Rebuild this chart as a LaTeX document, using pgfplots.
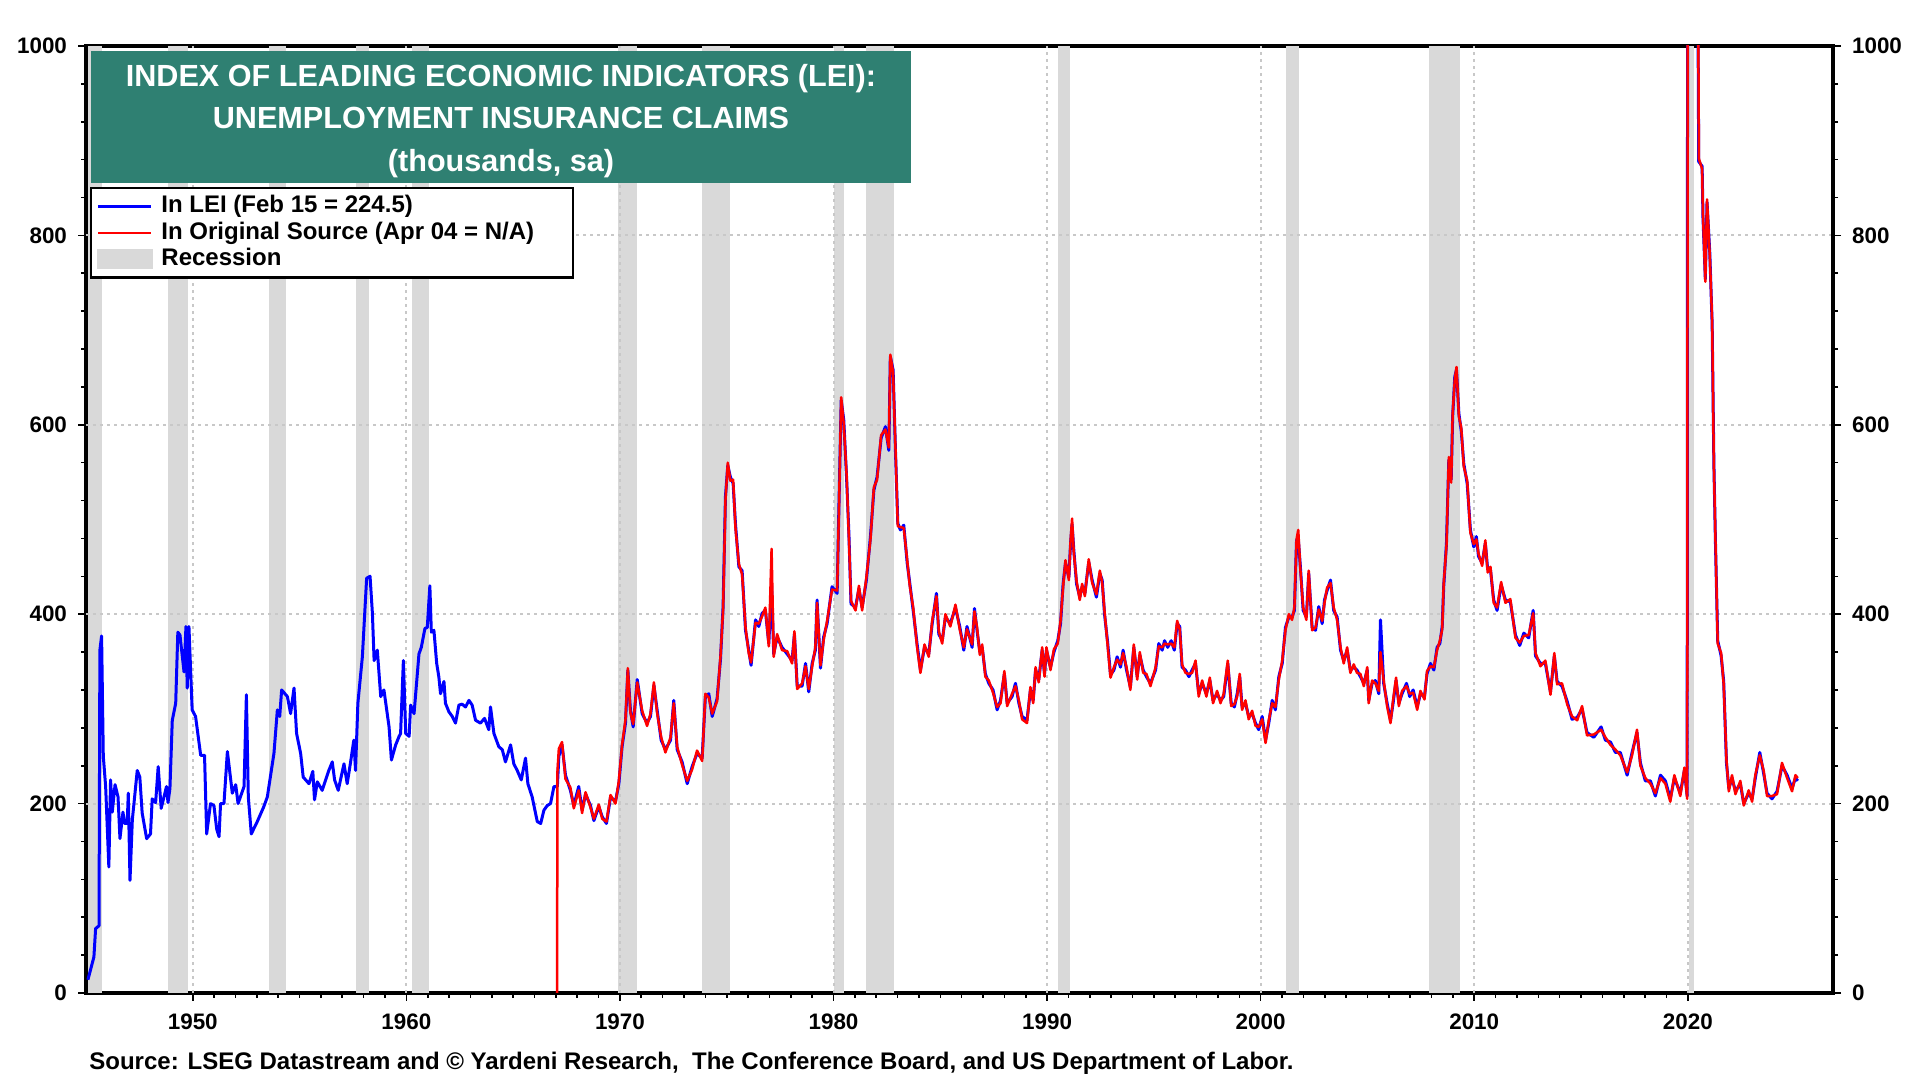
\documentclass[border=0pt]{standalone}
\usepackage{pgfplots}
\pgfplotsset{compat=1.18}
\usepackage{pgfplotstable}
\usepackage{fontspec}
\setmainfont{Liberation Sans}
\definecolor{lblue}{RGB}{0,0,255}
\definecolor{lred}{RGB}{255,0,0}
\definecolor{recgray}{RGB}{217,217,217}
\definecolor{titlecol}{RGB}{47,128,114}
\definecolor{gridgray}{RGB}{200,200,200}

\pgfplotstableread{
yr val
1945.09 14
1945.37 38
1945.45 68
1945.61 71
1945.65 362
1945.73 377
1945.81 250
1945.92 218
1946.07 133
1946.15 225
1946.23 191
1946.36 220
1946.50 207
1946.59 163
1946.73 191
1946.81 179
1946.93 179
1946.98 211
1947.06 119
1947.17 183
1947.40 235
1947.52 228
1947.63 190
1947.84 163
1948.02 168
1948.10 205
1948.26 201
1948.38 239
1948.52 195
1948.77 218
1948.84 201
1948.93 216
1949.04 288
1949.20 306
1949.30 381
1949.40 378
1949.59 339
1949.68 387
1949.74 322
1949.82 387
1949.97 299
1950.13 292
1950.37 251
1950.55 251
1950.65 168
1950.83 200
1950.99 198
1951.12 173
1951.23 165
1951.30 200
1951.46 200
1951.62 255
1951.85 211
1952.01 220
1952.12 200
1952.40 218
1952.51 315
1952.60 207
1952.74 168
1953.02 181
1953.33 197
1953.49 207
1953.80 253
1953.96 299
1954.07 292
1954.16 320
1954.43 313
1954.58 295
1954.74 322
1954.86 274
1955.05 253
1955.17 228
1955.44 221
1955.62 234
1955.70 204
1955.83 223
1956.06 214
1956.22 225
1956.37 235
1956.53 244
1956.64 225
1956.81 214
1957.08 242
1957.23 221
1957.39 244
1957.54 267
1957.62 235
1957.73 306
1957.94 355
1958.14 438
1958.30 440
1958.41 401
1958.49 351
1958.64 362
1958.80 313
1958.95 320
1959.19 281
1959.30 246
1959.50 262
1959.66 271
1959.73 274
1959.86 351
1959.97 274
1960.13 271
1960.20 304
1960.36 295
1960.59 358
1960.70 365
1960.87 385
1960.98 386
1961.10 430
1961.17 381
1961.29 383
1961.42 348
1961.52 334
1961.60 316
1961.76 329
1961.83 306
1961.99 297
1962.15 292
1962.30 285
1962.46 304
1962.61 305
1962.77 302
1962.93 309
1963.08 304
1963.24 288
1963.47 285
1963.66 290
1963.86 278
1963.94 302
1964.10 274
1964.33 260
1964.49 257
1964.64 244
1964.88 262
1965.03 242
1965.19 235
1965.38 225
1965.58 248
1965.69 221
1965.89 207
1966.13 181
1966.29 179
1966.44 193
1966.60 198
1966.75 200
1966.91 218
1967.07 218
1967.14 250
1967.29 262
1967.45 230
1967.68 214
1967.84 198
1968.07 218
1968.23 193
1968.39 210
1968.62 198
1968.78 182
1969.01 197
1969.17 186
1969.37 179
1969.56 207
1969.79 202
1969.95 221
1970.10 260
1970.26 285
1970.37 341
1970.49 299
1970.62 281
1970.81 331
1971.04 295
1971.27 285
1971.43 292
1971.59 325
1971.74 299
1971.93 267
1972.13 257
1972.37 267
1972.52 309
1972.68 257
1972.91 244
1973.15 221
1973.38 239
1973.61 253
1973.85 248
1974.00 313
1974.16 316
1974.32 292
1974.55 311
1974.71 353
1974.83 408
1974.94 524
1975.05 557
1975.17 545
1975.30 538
1975.41 495
1975.57 450
1975.72 446
1975.88 383
1976.03 362
1976.14 346
1976.35 394
1976.50 387
1976.66 401
1976.81 404
1976.97 369
1977.10 430
1977.20 358
1977.36 376
1977.59 365
1977.83 358
1978.06 351
1978.17 379
1978.30 324
1978.53 324
1978.69 348
1978.84 318
1979.00 348
1979.15 362
1979.23 415
1979.39 343
1979.54 376
1979.70 390
1979.93 429
1980.17 422
1980.25 510
1980.36 626
1980.48 605
1980.61 545
1980.72 485
1980.82 411
1981.03 407
1981.19 427
1981.34 407
1981.54 436
1981.73 482
1981.89 531
1982.04 545
1982.23 586
1982.43 598
1982.59 573
1982.66 672
1982.79 658
1982.90 573
1983.01 496
1983.13 489
1983.29 494
1983.45 454
1983.57 433
1983.73 404
1983.91 369
1984.07 341
1984.26 365
1984.46 358
1984.62 390
1984.82 422
1984.93 379
1985.09 372
1985.24 397
1985.47 390
1985.71 407
1985.91 387
1986.10 362
1986.25 387
1986.49 365
1986.60 406
1986.72 383
1986.85 360
1986.96 365
1987.11 337
1987.27 327
1987.47 320
1987.66 299
1987.82 309
1988.00 337
1988.13 306
1988.36 313
1988.52 327
1988.68 306
1988.83 292
1989.06 288
1989.22 320
1989.35 309
1989.46 341
1989.61 331
1989.77 362
1989.88 337
1989.97 362
1990.16 344
1990.32 360
1990.50 372
1990.63 390
1990.75 432
1990.86 454
1991.02 439
1991.10 475
1991.17 495
1991.25 468
1991.38 432
1991.53 418
1991.64 429
1991.77 422
1991.95 455
1992.11 436
1992.31 418
1992.47 443
1992.58 436
1992.69 400
1992.84 369
1992.97 336
1993.13 341
1993.28 355
1993.44 344
1993.56 362
1993.72 341
1993.90 323
1994.06 365
1994.22 334
1994.34 357
1994.50 341
1994.65 334
1994.84 327
1995.08 341
1995.23 369
1995.39 362
1995.50 372
1995.65 365
1995.81 372
1995.96 362
1996.09 390
1996.21 387
1996.32 344
1996.48 341
1996.64 334
1996.79 341
1996.95 348
1997.10 316
1997.26 327
1997.46 316
1997.62 330
1997.77 309
1997.96 316
1998.12 309
1998.27 313
1998.46 348
1998.62 306
1998.77 302
1998.90 316
1999.02 334
1999.13 302
1999.29 306
1999.44 292
1999.60 295
1999.76 285
1999.91 278
2000.07 292
2000.23 267
2000.38 285
2000.54 309
2000.69 299
2000.85 334
2001.01 348
2001.16 386
2001.32 397
2001.47 397
2001.58 404
2001.68 478
2001.76 480
2001.86 450
2001.99 404
2002.14 397
2002.25 443
2002.41 386
2002.57 383
2002.72 408
2002.88 390
2002.99 415
2003.11 425
2003.27 436
2003.42 404
2003.58 397
2003.74 362
2003.89 351
2004.05 362
2004.20 341
2004.36 344
2004.51 341
2004.67 334
2004.83 327
2004.99 341
2005.06 309
2005.22 327
2005.37 330
2005.53 316
2005.61 394
2005.76 327
2005.92 306
2006.08 288
2006.20 306
2006.34 330
2006.47 306
2006.62 316
2006.83 327
2006.98 313
2007.14 320
2007.33 302
2007.48 316
2007.67 313
2007.79 337
2007.95 348
2008.11 341
2008.26 365
2008.39 369
2008.50 387
2008.57 429
2008.70 475
2008.81 563
2008.92 542
2008.99 609
2009.09 651
2009.17 658
2009.28 612
2009.39 594
2009.51 559
2009.67 538
2009.82 489
2009.98 471
2010.10 482
2010.20 461
2010.37 454
2010.52 475
2010.63 447
2010.76 447
2010.91 415
2011.07 404
2011.26 431
2011.46 415
2011.69 413
2011.93 378
2012.13 367
2012.32 380
2012.55 375
2012.76 404
2012.87 356
2013.10 348
2013.33 348
2013.57 318
2013.75 356
2013.88 329
2014.11 324
2014.35 308
2014.58 289
2014.82 291
2015.05 300
2015.28 275
2015.60 270
2015.94 281
2016.14 267
2016.38 265
2016.61 254
2016.84 254
2017.16 230
2017.39 254
2017.62 275
2017.78 243
2018.01 224
2018.25 224
2018.48 208
2018.72 230
2018.95 224
2019.18 205
2019.37 227
2019.65 211
2019.84 235
2019.97 208
2020.02 2500
2020.25 6000
2020.44 1200
2020.51 878
2020.67 873
2020.71 819
2020.82 754
2020.90 835
2021.03 781
2021.14 706
2021.22 560
2021.29 480
2021.40 372
2021.56 356
2021.68 329
2021.81 243
2021.92 216
2022.07 227
2022.23 213
2022.46 221
2022.62 200
2022.85 211
2023.01 205
2023.16 227
2023.37 254
2023.55 232
2023.71 211
2023.94 205
2024.18 213
2024.41 240
2024.65 230
2024.88 216
2025.04 227
2025.15 224
}\leidata

\pgfplotstableread{
yr val
1967.06 0
1967.07 232
1967.14 258
1967.29 265
1967.45 226
1967.68 217
1967.84 195
1968.07 214
1968.23 190
1968.39 212
1968.62 196
1968.78 184
1969.01 199
1969.17 184
1969.37 181
1969.56 209
1969.79 200
1969.95 224
1970.10 262
1970.26 289
1970.37 343
1970.49 296
1970.62 284
1970.81 328
1971.04 298
1971.27 282
1971.43 295
1971.59 328
1971.74 296
1971.93 270
1972.13 254
1972.37 270
1972.52 306
1972.68 260
1972.91 241
1973.15 224
1973.38 236
1973.61 256
1973.85 245
1974.00 316
1974.16 312
1974.32 295
1974.55 308
1974.71 356
1974.83 405
1974.94 520
1975.05 560
1975.17 541
1975.30 542
1975.41 491
1975.57 453
1975.72 442
1975.88 386
1976.03 359
1976.14 349
1976.35 391
1976.50 390
1976.66 398
1976.81 407
1976.97 366
1977.10 469
1977.20 355
1977.36 379
1977.59 362
1977.83 361
1978.06 348
1978.17 382
1978.30 321
1978.53 327
1978.69 345
1978.84 321
1979.00 345
1979.15 365
1979.23 412
1979.39 346
1979.54 373
1979.70 393
1979.93 426
1980.17 425
1980.25 506
1980.36 629
1980.48 601
1980.61 548
1980.72 481
1980.82 414
1981.03 404
1981.19 430
1981.34 404
1981.54 439
1981.73 479
1981.89 534
1982.04 542
1982.23 589
1982.43 595
1982.59 576
1982.66 674
1982.79 655
1982.90 576
1983.01 493
1983.13 492
1983.29 491
1983.45 457
1983.57 430
1983.73 407
1983.91 366
1984.07 338
1984.26 368
1984.46 355
1984.62 393
1984.82 419
1984.93 382
1985.09 369
1985.24 400
1985.47 387
1985.71 410
1985.91 384
1986.10 365
1986.25 384
1986.49 368
1986.60 403
1986.72 386
1986.85 357
1986.96 368
1987.11 334
1987.27 330
1987.47 317
1987.66 302
1987.82 306
1988.00 340
1988.13 303
1988.36 316
1988.52 324
1988.68 309
1988.83 289
1989.06 285
1989.22 323
1989.35 306
1989.46 344
1989.61 328
1989.77 365
1989.88 334
1989.97 365
1990.16 341
1990.32 363
1990.50 369
1990.63 393
1990.75 429
1990.86 457
1991.02 436
1991.10 478
1991.17 501
1991.25 465
1991.38 435
1991.53 415
1991.64 432
1991.77 419
1991.95 458
1992.11 433
1992.31 421
1992.47 446
1992.58 433
1992.69 403
1992.84 366
1992.97 333
1993.13 344
1993.28 352
1993.44 347
1993.56 359
1993.72 344
1993.90 320
1994.06 368
1994.22 331
1994.34 360
1994.50 338
1994.65 337
1994.84 324
1995.08 344
1995.23 366
1995.39 365
1995.50 369
1995.65 368
1995.81 369
1995.96 365
1996.09 393
1996.21 384
1996.32 347
1996.48 338
1996.64 337
1996.79 338
1996.95 351
1997.10 313
1997.26 330
1997.46 313
1997.62 333
1997.77 306
1997.96 319
1998.12 306
1998.27 316
1998.46 351
1998.62 303
1998.77 305
1998.90 313
1999.02 337
1999.13 299
1999.29 309
1999.44 289
1999.60 298
1999.76 282
1999.91 281
2000.07 289
2000.23 264
2000.38 288
2000.54 306
2000.69 302
2000.85 331
2001.01 351
2001.16 383
2001.32 400
2001.47 394
2001.58 407
2001.68 479
2001.76 489
2001.86 447
2001.99 407
2002.14 394
2002.25 446
2002.41 383
2002.57 386
2002.72 405
2002.88 393
2002.99 412
2003.11 428
2003.27 433
2003.42 407
2003.58 394
2003.74 365
2003.89 348
2004.05 365
2004.20 338
2004.36 347
2004.51 338
2004.67 337
2004.83 324
2004.99 344
2005.06 306
2005.22 330
2005.37 327
2005.53 319
2005.61 360
2005.76 330
2005.92 303
2006.08 285
2006.20 309
2006.34 333
2006.47 303
2006.62 319
2006.83 324
2006.98 316
2007.14 317
2007.33 299
2007.48 319
2007.67 310
2007.79 340
2007.95 345
2008.11 344
2008.26 362
2008.39 372
2008.50 384
2008.57 432
2008.70 472
2008.81 566
2008.92 539
2008.99 612
2009.09 648
2009.17 661
2009.28 609
2009.39 597
2009.51 556
2009.67 541
2009.82 486
2009.98 474
2010.10 479
2010.20 464
2010.37 451
2010.52 478
2010.63 444
2010.76 450
2010.91 412
2011.07 407
2011.26 434
2011.46 412
2011.69 416
2011.93 375
2012.13 370
2012.32 377
2012.55 378
2012.76 401
2012.87 359
2013.10 345
2013.33 351
2013.57 315
2013.75 359
2013.88 326
2014.11 327
2014.35 305
2014.58 292
2014.82 288
2015.05 303
2015.28 272
2015.60 273
2015.94 278
2016.14 270
2016.38 262
2016.61 257
2016.84 251
2017.16 233
2017.39 251
2017.62 278
2017.78 240
2018.01 227
2018.25 221
2018.48 211
2018.72 227
2018.95 221
2019.18 202
2019.37 230
2019.65 208
2019.84 238
2019.97 205
2020.04 2500
2020.27 6000
2020.45 1200
2020.52 881
2020.67 870
2020.71 822
2020.82 751
2020.90 838
2021.03 778
2021.14 709
2021.22 557
2021.29 483
2021.40 369
2021.56 359
2021.68 326
2021.81 246
2021.92 213
2022.07 230
2022.23 210
2022.46 224
2022.62 198
2022.85 214
2023.01 202
2023.16 230
2023.37 251
2023.55 235
2023.71 208
2023.94 208
2024.18 210
2024.41 243
2024.65 227
2024.88 213
2025.04 230
2025.15 227
}\origdata

\pgfplotsset{
  tlab/.style={font=\fontsize{11.2}{13}\selectfont\bfseries},
  band/.style={fill=recgray, draw=none, forget plot},
  gline/.style={gridgray, line width=1pt, dash pattern=on 1.5pt off 2pt, forget plot},
}

\begin{document}
\begin{tikzpicture}
\path[use as bounding box] (0pt,0pt) rectangle (960pt,540pt);
\begin{axis}[
  at={(43pt,43.5pt)}, anchor=south west,
  scale only axis, width=873.5pt, height=473.5pt,
  xmin=1945, xmax=2026.8, ymin=0, ymax=1000,
  axis line style={line width=1.6pt},
  xtick={1950,1960,...,2020},
  minor x tick num=9,
  ytick={0,200,...,1000},
  minor y tick num=4,
  xtick pos=bottom, ytick pos=left,
  tick align=outside,
  major tick length=4pt, minor tick length=2.5pt,
  tick style={black, line width=0.8pt},
  /pgf/number format/assume math mode=true,
  /pgf/number format/1000 sep={},
  tick label style={tlab},
  xticklabel style={yshift=-3pt},
  yticklabel style={xshift=-2pt},
  legend style={at={(0.0023,0.851)}, anchor=north west, draw=black, line width=1.2pt,
    font=\fontsize{12}{14}\selectfont\bfseries, inner xsep=3pt, inner ysep=2.5pt,
    row sep=0pt, column sep=2.4pt,
    nodes={inner ysep=0.8pt, text height=9pt, text depth=2.6pt}, cells={anchor=west}},
  legend cell align=left,
  legend image code/.code={\draw[#1, line width=1.2pt] (0pt,0pt) -- (26.5pt,0pt);},
]
\addplot[band] coordinates {(1945.08,0) (1945.08,1000) (1945.76,1000) (1945.76,0)} -- cycle;
\addplot[band] coordinates {(1948.85,0) (1948.85,1000) (1949.77,1000) (1949.77,0)} -- cycle;
\addplot[band] coordinates {(1953.55,0) (1953.55,1000) (1954.37,1000) (1954.37,0)} -- cycle;
\addplot[band] coordinates {(1957.62,0) (1957.62,1000) (1958.25,1000) (1958.25,0)} -- cycle;
\addplot[band] coordinates {(1960.27,0) (1960.27,1000) (1961.08,1000) (1961.08,0)} -- cycle;
\addplot[band] coordinates {(1969.92,0) (1969.92,1000) (1970.80,1000) (1970.80,0)} -- cycle;
\addplot[band] coordinates {(1973.85,0) (1973.85,1000) (1975.17,1000) (1975.17,0)} -- cycle;
\addplot[band] coordinates {(1980.02,0) (1980.02,1000) (1980.50,1000) (1980.50,0)} -- cycle;
\addplot[band] coordinates {(1981.52,0) (1981.52,1000) (1982.83,1000) (1982.83,0)} -- cycle;
\addplot[band] coordinates {(1990.50,0) (1990.50,1000) (1991.08,1000) (1991.08,0)} -- cycle;
\addplot[band] coordinates {(2001.20,0) (2001.20,1000) (2001.80,1000) (2001.80,0)} -- cycle;
\addplot[band] coordinates {(2007.88,0) (2007.88,1000) (2009.35,1000) (2009.35,0)} -- cycle;
\addplot[band] coordinates {(2020.05,0) (2020.05,1000) (2020.28,1000) (2020.28,0)} -- cycle;
% dotted grid
\addplot[gline] coordinates {(1945,200) (2026.8,200)};
\addplot[gline] coordinates {(1945,400) (2026.8,400)};
\addplot[gline] coordinates {(1945,600) (2026.8,600)};
\addplot[gline] coordinates {(1945,800) (2026.8,800)};
\addplot[gline] coordinates {(1950,0) (1950,1000)};
\addplot[gline] coordinates {(1960,0) (1960,1000)};
\addplot[gline] coordinates {(1970,0) (1970,1000)};
\addplot[gline] coordinates {(1980,0) (1980,1000)};
\addplot[gline] coordinates {(1990,0) (1990,1000)};
\addplot[gline] coordinates {(2000,0) (2000,1000)};
\addplot[gline] coordinates {(2010,0) (2010,1000)};
\addplot[gline] coordinates {(2020,0) (2020,1000)};

\addplot[lblue, line width=1.5pt, line join=round] table[x=yr, y=val] {\leidata};
\addlegendentry{In LEI (Feb 15 = 224.5)}
\addplot[lred, line width=1.25pt, line join=round] table[x=yr, y=val] {\origdata};
\addlegendentry{In Original Source (Apr 04 = N/A)\hspace{14.5pt}\mbox{}}
\addlegendimage{legend image code/.code={\fill[recgray] (0pt,-4.5pt) rectangle (26.5pt,4.5pt);}}
\addlegendentry{Recession}
\end{axis}
\begin{axis}[
  at={(43pt,43.5pt)}, anchor=south west,
  scale only axis, width=873.5pt, height=473.5pt,
  xmin=1945, xmax=2026.8, ymin=0, ymax=1000,
  hide x axis, axis y line*=right,
  axis line style={line width=1.6pt, -},
  ytick={0,200,...,1000},
  minor y tick num=4,
  tick align=outside,
  major tick length=4pt, minor tick length=2.5pt,
  tick style={black, line width=0.8pt},
  /pgf/number format/assume math mode=true,
  /pgf/number format/1000 sep={},
  tick label style={tlab},
  yticklabel style={xshift=2pt},
]
\addplot[draw=none] coordinates {(1950,100) (1960,200)};
\end{axis}
\node[fill=titlecol, minimum width=410pt, minimum height=66pt, anchor=north west, inner sep=0pt]
  (tbox) at (45.3pt,514.5pt) {};
\node[text=white, align=center, inner sep=0pt,
      font=\fontsize{15.3}{21.4}\selectfont\bfseries]
  at ([yshift=-1.8pt]tbox.center) {INDEX OF LEADING ECONOMIC INDICATORS (LEI):\\UNEMPLOYMENT INSURANCE CLAIMS\\(thousands, sa)};
\node[anchor=west, inner sep=0pt, font=\fontsize{12}{14}\selectfont\bfseries]
  at (44.5pt,8.6pt) {Source: LSEG Datastream and © Yardeni Research,\ \ The Conference Board, and US Department of Labor.};
\end{tikzpicture}
\end{document}
